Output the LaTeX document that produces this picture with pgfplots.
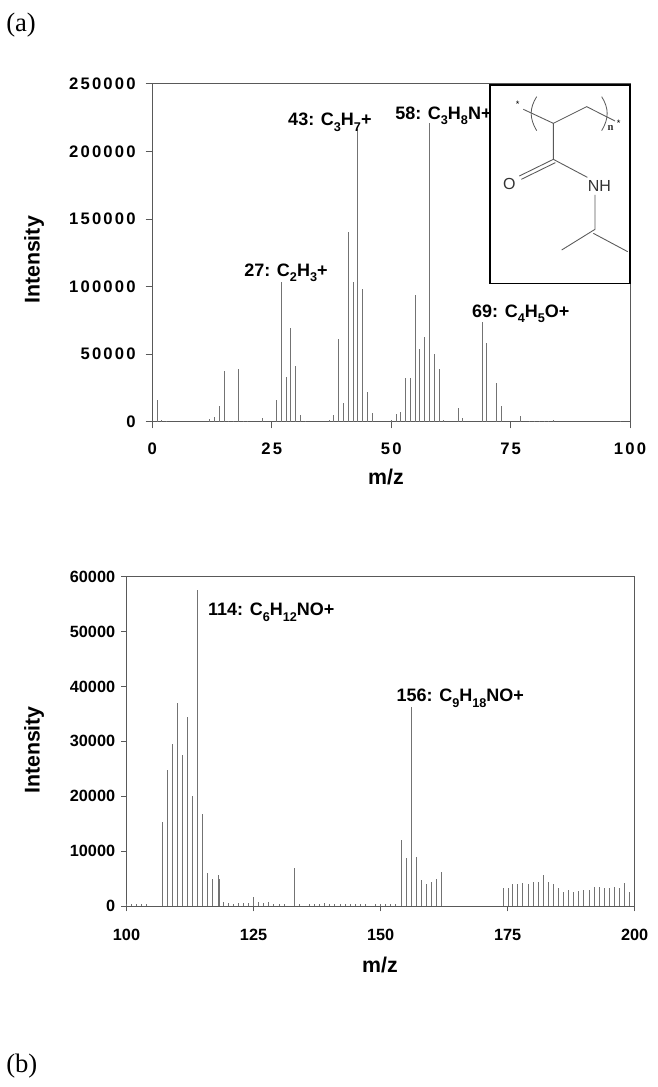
\documentclass[border=0pt]{standalone}
\usepackage{pgfplots}
\pgfplotsset{compat=1.18}
\usepackage{fontspec}
\setmainfont{Liberation Sans}
\newfontfamily\serifz{Liberation Serif}
\newfontfamily\spaced[LetterSpace=13]{Liberation Sans}
\newcommand\sub[1]{\raisebox{-0.3em}{\fontsize{9.5}{10}\selectfont #1}}
\definecolor{spine}{gray}{0.35}
\definecolor{barc}{gray}{0.45}
\pgfplotstableread{
mz int
1 16000
2 1000
3 300
12 1700
13 3700
14 11500
15 37500
16 600
17 500
18 38700
19 400
20 400
23 2500
26 16300
27 103000
28 33000
29 69500
30 41000
31 5000
32 500
37 1000
38 5000
39 61500
40 14000
41 140000
42 103500
43 216500
44 98500
45 22000
46 6500
50 1500
51 6000
52 7000
53 32500
54 32500
55 94000
56 54000
57 63000
58 221000
59 50000
60 39000
61 1500
64 10000
65 2500
69 73500
70 58000
72 28500
73 11300
77 4400
79 500
80 600
81 500
82 700
83 800
84 900
98 400
}\topdata
\pgfplotstableread{
mz int
100 400
101 300
102 300
103 300
104 300
107 15300
108 24800
109 29600
110 37000
111 27600
112 34500
113 20000
114 57500
115 16700
116 6000
117 4900
118 5700
118.3 5000
119 700
120 600
121 400
122 600
123 500
124 600
125 1700
126 700
127 600
128 700
129 300
130 400
131 300
133 6900
134 300
136 400
137 400
138 400
139 500
140 300
141 300
142 300
143 300
144 400
145 300
146 300
147 300
149 300
150 300
151 400
152 400
153 300
154 12100
155 8700
156 36200
157 8900
158 4800
159 4000
160 4300
161 4900
162 6200
174.2 3200
175.1 3300
176 4100
177 4100
178 4200
179 4100
180 4400
181 4400
182 5600
183 4400
184 4100
185 3200
186 2600
187 3000
188 2600
189 2700
190 3000
191 2900
192 3400
193 3400
194 3300
195 3300
196 3500
197 3300
198 4250
199 2600
}\botdata
\pgfplotsset{
 common/.style={
  scale only axis,
  anchor=south west,
  axis line style={spine,line width=0.55pt},
  tick style={spine,line width=0.55pt},
  tick align=outside,
  tick pos=left,
  major tick length=4pt,
  scaled ticks=false,
  minor tick num=0,
  /pgf/number format/fixed,
  /pgf/number format/precision=0,
  /pgf/number format/assume math mode=true,
  /pgf/number format/1000 sep={},
  clip=false,
 },
 bars/.style={ycomb,barc,line width=0.65pt,mark=none},
}
\tikzset{ann/.style={font=\bfseries\fontsize{13.5}{15}\selectfont,inner sep=0pt,anchor=base west,text=black}}
\begin{document}
\begin{tikzpicture}[x=0.75pt,y=-0.75pt]
\path (0,0) rectangle (657,1087);
\node[font=\serifz\fontsize{20}{22}\selectfont,anchor=base west,inner sep=0pt] at (6,32) {(a)};
\node[font=\serifz\fontsize{20}{22}\selectfont,anchor=base west,inner sep=0pt] at (6,1072) {(b)};
\begin{axis}[common,at={(114.225pt,-316.275pt)},width=358.3pt,height=253.5pt,
  xmin=0,xmax=100,ymin=0,ymax=250000,major tick length=5pt,
  xtick={0,25,50,75,100},ytick={0,50000,100000,150000,200000,250000},
  tick label style={font=\spaced\bfseries\fontsize{12.5}{14}\selectfont,black},
  xticklabel style={yshift=-7pt,text height=9.2pt,text depth=0pt},yticklabel style={xshift=-4pt}]
\addplot[bars] table[x=mz,y=int]{\topdata};
\node[ann] at (axis cs:19.2,107500) {27: C\sub{2}H\sub{3}+};
\node[ann] at (axis cs:28.4,219000) {43: C\sub{3}H\sub{7}+};
\node[ann] at (axis cs:50.8,223500) {58: C\sub{3}H\sub{8}N+};
\node[ann] at (axis cs:66.9,77000) {69: C\sub{4}H\sub{5}O+};
\end{axis}
\node[rotate=90,font=\bfseries\fontsize{16}{18}\selectfont] at (34,260) {Intensity};
\node[font=\bfseries\fontsize{16}{18}\selectfont] at (386,477) {m/z};
\begin{axis}[common,at={(94.875pt,-679.5pt)},width=381.15pt,height=247pt,
  xmin=100,xmax=200,ymin=0,ymax=60000,
  xtick={100,125,150,175,200},ytick={0,10000,20000,30000,40000,50000,60000},
  tick label style={font=\bfseries\fontsize{12.2}{14}\selectfont,black},
  xticklabel style={yshift=-9.5pt,text height=9pt,text depth=0pt},yticklabel style={xshift=-1pt}]
\addplot[bars] table[x=mz,y=int]{\botdata};
\node[ann] at (axis cs:116,52900) {114: C\sub{6}H\sub{12}NO+};
\node[ann] at (axis cs:153.1,37200) {156: C\sub{9}H\sub{18}NO+};
\end{axis}
\node[rotate=90,font=\bfseries\fontsize{16}{18}\selectfont] at (34,750) {Intensity};
\node[font=\bfseries\fontsize{16}{18}\selectfont] at (380,965) {m/z};
% inset
\begin{scope}[x=0.25pt,y=-0.25pt,shift={(1140,180)}]
\draw[black,line width=1.1pt,fill=white] (330,75) rectangle (750,670);
\draw[gray!70!black,line width=0.65pt]
 (430,148) -- (520,190) -- (620,140) -- (705,183)
 (520,190) -- (520,298) -- (622,352)
 (520,298) -- (418,348)
 (526,308) -- (424,358)
 (645,405) -- (645,508) -- (545,570)
 (640,520) -- (743,575);
\draw[gray!70!black,line width=0.6pt] (470,110) .. controls (448,145) and (448,175) .. (470,212);
\draw[gray!70!black,line width=0.6pt] (665,110) .. controls (687,145) and (687,175) .. (665,212);
\node[font=\fontsize{12}{14}\selectfont,text=black!80] at (388,371) {O};
\node[font=\fontsize{12}{14}\selectfont,text=black!80] at (658,378) {NH};
\node[font=\serifz\bfseries\fontsize{8}{9}\selectfont,text=black!80] at (692,205) {n};
\node[font=\fontsize{7}{8}\selectfont] at (413,134) {*};
\node[font=\fontsize{7}{8}\selectfont] at (716,189) {*};
\end{scope}
\end{tikzpicture}
\end{document}
